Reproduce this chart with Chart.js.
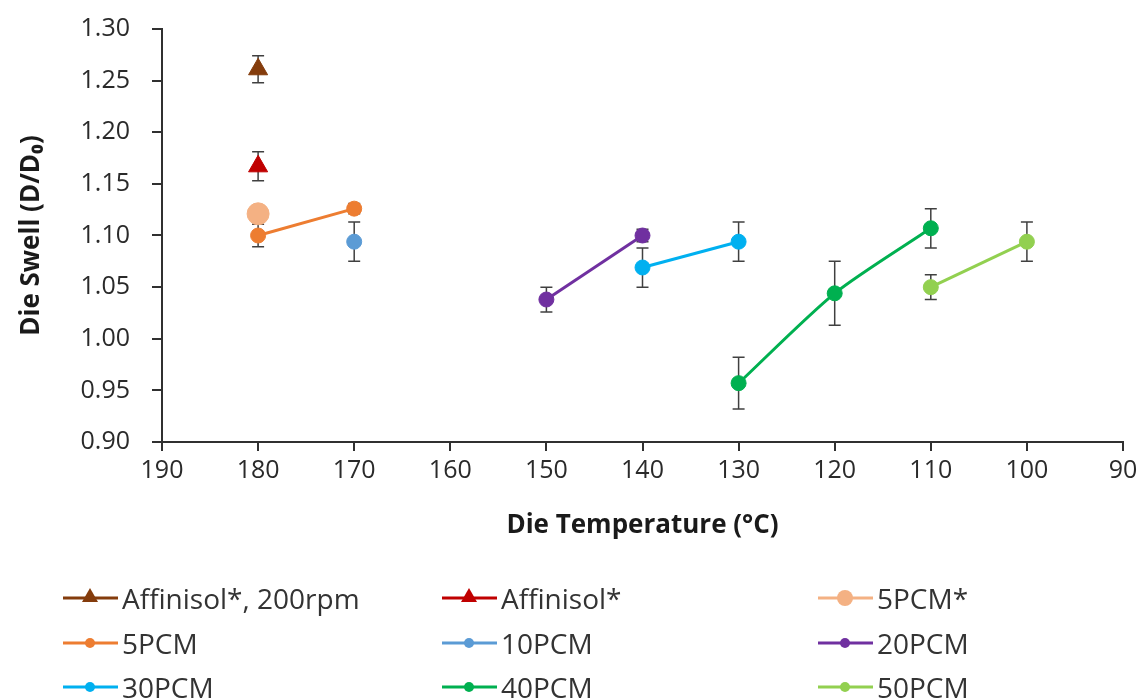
<!DOCTYPE html>
<html lang="en">
<head>
    <meta charset="UTF-8">
    <title>Die Swell vs Die Temperature</title>
    <script src="https://cdn.jsdelivr.net/npm/chart.js"></script>
    <style>
        body {
            margin: 0;
            background: #fff;
            font-family: "Open Sans", sans-serif;
        }

        .wrap {
            position: relative;
            width: 1147px;
            height: 699px;
            overflow: hidden;
        }

        .legend-item {
            position: absolute;
            display: flex;
            align-items: center;
            height: 34px;
            font-size: 28px;
            color: #333;
            white-space: nowrap;
        }

        .legend-item svg {
            margin-right: 4px;
        }
    </style>
</head>
<body>
    <div class="wrap">
        <canvas id="swellChart" width="1147" height="699"></canvas>
        <div id="legend"></div>
    </div>

    <script>
        // series data
        const seriesNames = ['Affinisol*, 200rpm', 'Affinisol*', '5PCM*', '5PCM', '10PCM', '20PCM', '30PCM', '40PCM', '50PCM'];
        const seriesTemps = [[180], [180], [180], [180, 170], [170], [150, 140], [140, 130], [130, 120, 110], [110, 100]];
        const seriesSwell = [[1.261], [1.167], [1.121], [1.100, 1.126], [1.094], [1.038, 1.100], [1.069, 1.094], [0.957, 1.044, 1.107], [1.050, 1.094]];
        const seriesErr = [[0.013], [0.014], [0.004], [0.011, 0.005], [0.019], [0.012, 0.006], [0.019, 0.019], [0.025, 0.031, 0.019], [0.012, 0.019]];

        const seriesColors = ['#843C0C', '#C00000', '#F4B183', '#ED7D31', '#5B9BD5', '#7030A0', '#00B0F0', '#00B050', '#92D050'];
        const seriesShapes = ['triangle', 'triangle', 'circle', 'circle', 'circle', 'circle', 'circle', 'circle', 'circle'];
        const seriesRadius = [11, 11, 11, 7.5, 7.5, 7.5, 7.5, 7.5, 7.5];

        const axisColor = '#303030';

        const datasets = seriesNames.map((name, i) => ({
            label: name,
            data: seriesTemps[i].map((t, j) => ({ x: t, y: seriesSwell[i][j] })),
            errors: seriesErr[i],
            showLine: true,
            borderColor: seriesColors[i],
            backgroundColor: seriesColors[i],
            borderWidth: 3,
            pointStyle: seriesShapes[i],
            pointRadius: seriesRadius[i],
            pointBorderWidth: 1,
            tension: name === '40PCM' ? 0.25 : 0
        }));

        // vertical error bars with caps, drawn under the markers
        const errorBars = {
            id: 'errorBars',
            beforeDatasetsDraw(chart) {
                const ctx = chart.ctx;
                const yScale = chart.scales.y;
                ctx.save();
                ctx.strokeStyle = '#404040';
                ctx.lineWidth = 1.5;
                chart.data.datasets.forEach((ds, i) => {
                    const meta = chart.getDatasetMeta(i);
                    meta.data.forEach((pt, j) => {
                        const v = ds.data[j].y;
                        const e = ds.errors[j];
                        const top = yScale.getPixelForValue(v + e);
                        const bot = yScale.getPixelForValue(v - e);
                        ctx.beginPath();
                        ctx.moveTo(pt.x, top);
                        ctx.lineTo(pt.x, bot);
                        ctx.moveTo(pt.x - 6, top);
                        ctx.lineTo(pt.x + 6, top);
                        ctx.moveTo(pt.x - 6, bot);
                        ctx.lineTo(pt.x + 6, bot);
                        ctx.stroke();
                    });
                });
                ctx.restore();
            }
        };

        new Chart(document.getElementById('swellChart'), {
            type: 'scatter',
            data: { datasets: datasets },
            plugins: [errorBars],
            options: {
                responsive: false,
                animation: false,
                layout: { padding: { left: 12, top: 29, right: 24, bottom: 154 } },
                plugins: {
                    legend: { display: false },
                    tooltip: { enabled: false }
                },
                scales: {
                    x: {
                        type: 'linear',
                        reverse: true,
                        min: 90,
                        max: 190,
                        afterFit: (scale) => { scale.height = 103; },
                        ticks: {
                            stepSize: 10,
                            padding: 5,
                            color: '#2a2a2a',
                            font: { family: 'Open Sans', size: 25 }
                        },
                        grid: {
                            drawOnChartArea: false,
                            drawTicks: true,
                            tickLength: 9,
                            color: axisColor,
                            lineWidth: 2
                        },
                        border: { color: axisColor, width: 2 },
                        title: {
                            display: true,
                            text: 'Die Temperature (°C)',
                            color: '#1a1a1a',
                            font: { family: 'Open Sans', size: 26, weight: 'bold' }
                        }
                    },
                    y: {
                        min: 0.9,
                        max: 1.3,
                        afterFit: (scale) => {
                            scale.width = 150;
                            // tick padding would otherwise push the plot top down
                            scale.paddingTop = 0;
                            scale.paddingBottom = 0;
                        },
                        ticks: {
                            stepSize: 0.05,
                            padding: 22,
                            color: '#2a2a2a',
                            font: { family: 'Open Sans', size: 25 },
                            callback: (v) => v.toFixed(2)
                        },
                        grid: {
                            drawOnChartArea: false,
                            drawTicks: true,
                            tickLength: 10,
                            color: axisColor,
                            lineWidth: 2
                        },
                        border: { color: axisColor, width: 2 },
                        title: {
                            display: true,
                            text: 'Die Swell (D/D\u2080)',
                            color: '#1a1a1a',
                            font: { family: 'Open Sans', size: 26, weight: 'bold' }
                        }
                    }
                }
            }
        });

        // legend: 3 columns x 3 rows, like the original figure
        const legendCols = [63, 442, 818];
        const legendRows = [598, 643, 687];
        const legend = document.getElementById('legend');
        seriesNames.forEach((name, i) => {
            const c = seriesColors[i];
            let mark;
            if (seriesShapes[i] === 'triangle') {
                mark = `<polygon points="27,5 35,19 19,19" fill="${c}"/>`;
            } else {
                const r = i === 2 ? 8 : 5;
                mark = `<circle cx="27" cy="15" r="${r}" fill="${c}"/>`;
            }
            const item = document.createElement('div');
            item.className = 'legend-item';
            item.style.left = legendCols[i % 3] + 'px';
            item.style.top = (legendRows[Math.floor(i / 3)] - 17) + 'px';
            item.innerHTML = `<svg width="55" height="30"><line x1="0" y1="15" x2="55" y2="15" stroke="${c}" stroke-width="3"/>${mark}</svg><span>${name}</span>`;
            legend.appendChild(item);
        });
    </script>
</body>
</html>
